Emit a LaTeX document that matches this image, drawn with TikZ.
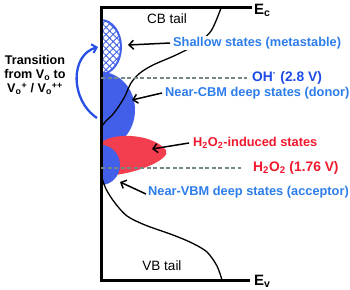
\documentclass[tikz,border=0pt]{standalone}
\usepackage{fontspec}
\setmainfont{Liberation Sans}
\usetikzlibrary{arrows.meta,patterns.meta}
\definecolor{lblblue}{RGB}{45,125,235}
\definecolor{ohblue}{RGB}{30,75,230}
\definecolor{blobblue}{RGB}{65,95,232}
\definecolor{blobred}{RGB}{242,62,78}
\definecolor{txtred}{RGB}{240,25,45}
\definecolor{dashgray}{RGB}{115,135,135}
\definecolor{arrblue}{RGB}{40,80,230}
\tikzset{
  lbl/.style={anchor=west,inner sep=1pt,fill=white,font=\bfseries\fontsize{12.8}{14}\selectfont},
  lvllbl/.style={anchor=west,inner sep=1pt,fill=white,font=\bfseries\fontsize{13.8}{15}\selectfont},
  ptr/.style={line width=1.5pt,-{Straight Barb[length=4.5pt,width=9pt,line width=1.5pt]}},
  lvl/.style={dashgray,line width=2pt,dash pattern=on 4pt off 2.5pt},
  band/.style={line width=3pt},
  tail/.style={line width=1.3pt},
  elab/.style={inner sep=0pt,font=\bfseries\fontsize{15}{17}\selectfont},
  tlab/.style={inner sep=1pt,font=\fontsize{13.5}{15}\selectfont}
}
\begin{document}
\begin{tikzpicture}[x=1pt,y=-1pt]
\useasboundingbox (0,0) rectangle (350,289);
% blobs
\begin{scope}
\clip (101,0) rectangle (350,289);
\fill[pattern={Lines[angle=45,distance=5pt,line width=0.9pt]},pattern color=blobblue] (101,47) ellipse [x radius=20,y radius=27];
\fill[pattern={Lines[angle=-45,distance=5pt,line width=0.9pt]},pattern color=blobblue] (101,47) ellipse [x radius=20,y radius=27];
\draw[blobblue,line width=2pt] (101,47) ellipse [x radius=20,y radius=27];
\fill[blobblue] (101,110) ellipse [x radius=34,y radius=38];
\fill[blobred] (101,143) .. controls (110,133) and (150,132) .. (166,150)
  .. controls (171,159) and (140,172) .. (115,175) -- (101,175) -- cycle;
\fill[blobblue] (101,165) ellipse [x radius=19,y radius=20];
\end{scope}
% tails
\draw[tail] plot[smooth] coordinates {(221,8) (211,31) (195,45) (176,55) (153,65) (140,73) (131,83) (124,98) (114,113) (105,122) (101,128)};
\draw[tail] plot[smooth] coordinates {(101,175) (106,189) (115,203) (127,216) (145,225) (173,235) (192,243) (207,252) (217,266) (222,280)};
% band edges
\coordinate (axtop) at (101,7);
\coordinate (axbot) at (101,280);
\node[elab,anchor=west] (ec) at (254,10) {E\textsubscript{c}};
\node[elab,anchor=west] (ev) at (254,281) {E\textsubscript{v}};
\path (ec.west) ++(-4,0) coordinate (ecend);
\draw[band,line cap=rect] (axbot) -- (axtop) -- (ecend |- axtop);
\draw[band] (axbot) -- (ecend |- axbot);
\node[tlab] (cb) at (167,19) {CB tail};
\node[tlab] (vb) at (162,266) {VB tail};
% levels
\node[lvllbl,text=ohblue] (oh) at (251,78) {OH\textsuperscript{·} (2.8 V)};
\node[lvllbl,text=txtred] (hh) at (252,168) {H\textsubscript{2}O\textsubscript{2} (1.76 V)};
\draw[lvl] (101,78) -- ([xshift=-4pt]oh.west);
\draw[lvl] (101,168) -- ([xshift=-11pt]hh.west);
% labels and pointers
\node[lbl,text=lblblue] (sh) at (172,43) {Shallow states (metastable)};
\node[lbl,text=lblblue] (ncbm) at (164,93) {Near-CBM deep states (donor)};
\node[lbl,text=txtred] (hind) at (192,143) {H\textsubscript{2}O\textsubscript{2}-induced states};
\node[lbl,text=lblblue] (nvbm) at (147,192) {Near-VBM deep states (acceptor)};
\coordinate (shtip) at (128,45);
\coordinate (cbmtip) at (132,100);
\coordinate (hindtip) at (152,149);
\coordinate (vbmtip) at (120,182);
\draw[ptr] ([xshift=-2pt]sh.west) -- (shtip);
\draw[ptr] ([xshift=-2pt]ncbm.west) -- (cbmtip);
\draw[ptr] ([xshift=-3pt]hind.west) -- (hindtip);
\draw[ptr] ([xshift=-1pt,yshift=-2pt]nvbm.west) -- (vbmtip);
% transition
\node[align=center,inner sep=0pt,font=\bfseries\fontsize{12.6}{14}\selectfont] (tr) at (35,75)
  {Transition\\from V\textsubscript{o} to\\V\textsubscript{o}\textsuperscript{+} / V\textsubscript{o}\textsuperscript{++}};
\coordinate (trs) at (97,118);
\coordinate (tre) at (98,47);
\draw[arrblue,line width=2.3pt,-{Straight Barb[length=4.5pt,width=9pt,line width=2pt]}] (trs) .. controls (70,100) and (70,55) .. (tre);
\end{tikzpicture}
\end{document}
